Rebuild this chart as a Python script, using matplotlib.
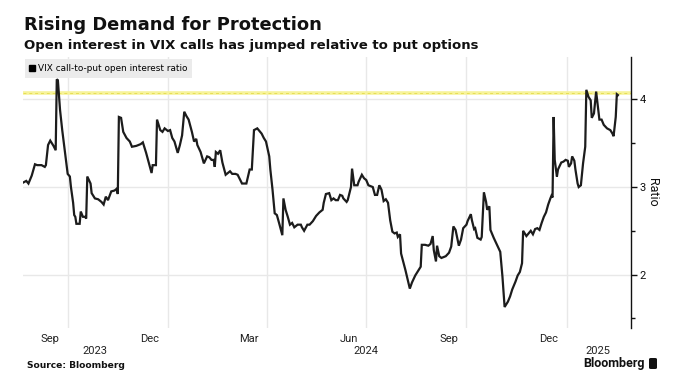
import matplotlib
matplotlib.use("Agg")
import matplotlib.pyplot as plt
import matplotlib.transforms as mtransforms
from matplotlib.lines import Line2D
from matplotlib.patches import FancyBboxPatch
import pandas as pd

plt.rcParams['font.family'] = ['Roboto', 'DejaVu Sans']

dates = [
    "2023-08-21", "2023-08-24", "2023-08-26", "2023-08-29", "2023-09-01", "2023-09-03",
    "2023-09-07", "2023-09-10", "2023-09-11", "2023-09-13", "2023-09-15", "2023-09-17",
    "2023-09-18", "2023-09-20", "2023-09-21", "2023-09-22", "2023-09-24", "2023-09-26",
    "2023-09-29", "2023-10-01", "2023-10-03", "2023-10-04", "2023-10-06", "2023-10-07",
    "2023-10-08", "2023-10-09", "2023-10-12", "2023-10-13", "2023-10-15", "2023-10-17",
    "2023-10-18", "2023-10-19", "2023-10-22", "2023-10-23", "2023-10-26", "2023-10-29",
    "2023-11-01", "2023-11-03", "2023-11-05", "2023-11-07", "2023-11-10", "2023-11-13",
    "2023-11-15", "2023-11-16", "2023-11-17", "2023-11-19", "2023-11-21", "2023-11-24",
    "2023-11-27", "2023-11-29", "2023-12-03", "2023-12-07", "2023-12-09", "2023-12-12",
    "2023-12-15", "2023-12-17", "2023-12-18", "2023-12-21", "2023-12-22", "2023-12-25",
    "2023-12-27", "2023-12-29", "2024-01-01", "2024-01-03", "2024-01-05", "2024-01-07",
    "2024-01-10", "2024-01-12", "2024-01-14", "2024-01-16", "2024-01-18", "2024-01-20",
    "2024-01-23", "2024-01-25", "2024-01-27", "2024-01-28", "2024-01-31", "2024-02-03",
    "2024-02-06", "2024-02-08", "2024-02-10", "2024-02-12", "2024-02-13", "2024-02-14",
    "2024-02-16", "2024-02-18", "2024-02-20", "2024-02-23", "2024-02-25", "2024-02-27",
    "2024-02-29", "2024-03-03", "2024-03-05", "2024-03-09", "2024-03-13", "2024-03-16",
    "2024-03-18", "2024-03-20", "2024-03-23", "2024-03-27", "2024-03-29", "2024-03-31",
    "2024-04-03", "2024-04-04", "2024-04-06", "2024-04-08", "2024-04-10", "2024-04-12",
    "2024-04-15", "2024-04-16", "2024-04-18", "2024-04-20", "2024-04-22", "2024-04-24",
    "2024-04-26", "2024-04-29", "2024-05-02", "2024-05-03", "2024-05-05", "2024-05-08",
    "2024-05-10", "2024-05-13", "2024-05-16", "2024-05-19", "2024-05-22", "2024-05-23",
    "2024-05-25", "2024-05-28", "2024-05-30", "2024-06-01", "2024-06-03", "2024-06-05",
    "2024-06-07", "2024-06-09", "2024-06-10", "2024-06-13", "2024-06-14", "2024-06-17",
    "2024-06-18", "2024-06-20", "2024-06-23", "2024-06-24", "2024-06-27", "2024-06-29",
    "2024-07-01", "2024-07-03", "2024-07-07", "2024-07-09", "2024-07-11", "2024-07-13",
    "2024-07-15", "2024-07-17", "2024-07-19", "2024-07-21", "2024-07-23", "2024-07-25",
    "2024-07-27", "2024-07-29", "2024-07-30", "2024-08-01", "2024-08-02", "2024-08-06",
    "2024-08-10", "2024-08-12", "2024-08-15", "2024-08-17", "2024-08-20", "2024-08-21",
    "2024-08-24", "2024-08-27", "2024-08-29", "2024-08-31", "2024-09-01", "2024-09-03",
    "2024-09-04", "2024-09-06", "2024-09-08", "2024-09-12", "2024-09-15", "2024-09-17",
    "2024-09-19", "2024-09-21", "2024-09-24", "2024-09-26", "2024-09-28", "2024-10-01",
    "2024-10-02", "2024-10-05", "2024-10-06", "2024-10-08", "2024-10-09", "2024-10-11",
    "2024-10-14", "2024-10-15", "2024-10-17", "2024-10-19", "2024-10-20", "2024-10-22",
    "2024-10-23", "2024-10-26", "2024-10-29", "2024-11-01", "2024-11-03", "2024-11-05",
    "2024-11-08", "2024-11-10", "2024-11-12", "2024-11-15", "2024-11-17", "2024-11-19",
    "2024-11-21", "2024-11-22", "2024-11-25", "2024-11-27", "2024-11-29", "2024-12-01",
    "2024-12-03", "2024-12-05", "2024-12-07", "2024-12-09", "2024-12-11", "2024-12-13",
    "2024-12-15", "2024-12-17", "2024-12-18", "2024-12-19", "2024-12-20", "2024-12-21",
    "2024-12-23", "2024-12-24", "2024-12-27", "2024-12-29", "2024-12-31", "2025-01-02",
    "2025-01-03", "2025-01-05", "2025-01-06", "2025-01-08", "2025-01-09", "2025-01-11",
    "2025-01-12", "2025-01-14", "2025-01-16", "2025-01-18", "2025-01-19", "2025-01-20",
    "2025-01-21", "2025-01-23", "2025-01-24", "2025-01-26", "2025-01-27", "2025-01-28",
    "2025-01-30", "2025-01-31", "2025-02-02", "2025-02-04", "2025-02-07", "2025-02-10",
    "2025-02-12", "2025-02-13", "2025-02-15", "2025-02-16", "2025-02-17",
]

ratio = [
    3.05, 3.07, 3.04, 3.13, 3.26, 3.25,
    3.25, 3.23, 3.25, 3.48, 3.53, 3.49,
    3.47, 3.42, 4.23, 4.22, 3.88, 3.65,
    3.35, 3.15, 3.12, 3.00, 2.82, 2.68,
    2.66, 2.58, 2.58, 2.72, 2.66, 2.66,
    2.64, 3.12, 3.04, 2.93, 2.87, 2.86,
    2.83, 2.80, 2.89, 2.85, 2.95, 2.96,
    2.98, 2.92, 3.80, 3.79, 3.63, 3.56,
    3.52, 3.46, 3.47, 3.49, 3.51, 3.39,
    3.25, 3.16, 3.25, 3.25, 3.77, 3.65,
    3.63, 3.67, 3.64, 3.65, 3.56, 3.52,
    3.39, 3.48, 3.59, 3.86, 3.81, 3.77,
    3.63, 3.52, 3.55, 3.48, 3.40, 3.27,
    3.35, 3.34, 3.31, 3.31, 3.23, 3.40,
    3.38, 3.42, 3.28, 3.14, 3.16, 3.18,
    3.15, 3.15, 3.14, 3.04, 3.04, 3.20,
    3.20, 3.65, 3.67, 3.61, 3.56, 3.52,
    3.35, 3.20, 2.97, 2.70, 2.68, 2.59,
    2.45, 2.87, 2.74, 2.66, 2.57, 2.59,
    2.54, 2.57, 2.57, 2.54, 2.50, 2.57,
    2.57, 2.61, 2.67, 2.71, 2.74, 2.82,
    2.92, 2.93, 2.85, 2.87, 2.85, 2.85,
    2.91, 2.90, 2.87, 2.83, 2.85, 3.00,
    3.21, 3.02, 3.02, 3.06, 3.14, 3.10,
    3.08, 3.02, 3.00, 2.91, 2.91, 3.02,
    2.97, 2.84, 2.86, 2.82, 2.62, 2.49,
    2.47, 2.48, 2.43, 2.46, 2.24, 2.05,
    1.84, 1.91, 1.99, 2.03, 2.09, 2.34,
    2.34, 2.33, 2.35, 2.44, 2.28, 2.15,
    2.33, 2.21, 2.19, 2.21, 2.25, 2.32,
    2.55, 2.51, 2.33, 2.40, 2.53, 2.57,
    2.61, 2.69, 2.62, 2.52, 2.53, 2.42,
    2.40, 2.43, 2.94, 2.83, 2.74, 2.78,
    2.51, 2.42, 2.34, 2.26, 1.98, 1.63,
    1.69, 1.75, 1.83, 1.92, 1.99, 2.03,
    2.13, 2.50, 2.44, 2.47, 2.50, 2.46,
    2.52, 2.53, 2.51, 2.59, 2.66, 2.71,
    2.80, 2.87, 2.90, 2.88, 3.80, 3.31,
    3.12, 3.20, 3.28, 3.29, 3.31, 3.30,
    3.23, 3.27, 3.35, 3.30, 3.20, 3.04,
    3.00, 3.02, 3.27, 3.46, 4.11, 4.07,
    4.03, 3.99, 3.79, 3.84, 3.96, 4.09,
    3.88, 3.77, 3.77, 3.71, 3.67, 3.65,
    3.61, 3.58, 3.80, 4.06, 4.05,
]

threshold = 4.07
month_labels = ["Sep", "Dec", "Mar", "Jun", "Sep", "Dec"]
month_label_dates = ["2023-09-15", "2023-12-15", "2024-03-15", "2024-06-15", "2024-09-15", "2024-12-15"]
grid_dates = ["2023-10-01", "2024-01-01", "2024-04-01", "2024-07-01", "2024-10-01", "2025-01-01"]
year_labels = ["2023", "2024", "2025"]
year_label_dates = ["2023-10-26", "2024-07-01", "2025-01-30"]
y_ticks = [2, 3, 4]
y_minor = [1.5, 2.5, 3.5]

x = pd.to_datetime(dates)

W, H = 680, 392
fig = plt.figure(figsize=(W / 100, H / 100), dpi=100)
ax = fig.add_axes([23 / W, 1 - 328 / H, (631 - 23) / W, (328 - 57) / H])

ax.set_xlim(pd.Timestamp("2023-08-21"), pd.Timestamp("2025-03-01"))
ax.set_ylim(1.39, 4.485)

grid_c = "#e8e8e8"
for d in pd.to_datetime(grid_dates):
    ax.axvline(d, color=grid_c, lw=1, zorder=0)
for v in y_ticks:
    ax.axhline(v, color=grid_c, lw=1, zorder=0)

ax.axhline(threshold, color="#f7f39a", lw=2.6, zorder=1)
ax.axhline(threshold, color="#e6de55", lw=0.7, ls=(0, (3, 3)), zorder=1.1)

ax.plot(x, ratio, color="#1c1c1c", lw=1.6, zorder=3, solid_joinstyle="miter")

for s in ["top", "left", "bottom"]:
    ax.spines[s].set_visible(False)
ax.spines["right"].set_color("#111111")
ax.spines["right"].set_linewidth(1.0)

ax.yaxis.tick_right()
ax.set_yticks(y_ticks)
ax.set_yticks(y_minor, minor=True)
ax.set_yticklabels([str(v) for v in y_ticks])
ax.tick_params(axis="y", which="major", length=4, width=1, pad=2, labelsize=8, colors="#111111")
ax.tick_params(axis="y", which="minor", length=3, width=1, colors="#111111")
ax.yaxis.set_label_position("right")
ax.set_ylabel("Ratio", rotation=-90, fontsize=9, labelpad=10, color="#111111")

ax.set_xticks(pd.to_datetime(month_label_dates))
ax.set_xticklabels(month_labels)
ax.tick_params(axis="x", length=0, pad=4, labelsize=8, colors="#222222")

trans = mtransforms.blended_transform_factory(ax.transData, ax.transAxes)
for lab, d in zip(year_labels, pd.to_datetime(year_label_dates)):
    ax.text(d, -0.085, lab, transform=trans, ha="center", va="center", fontsize=8, color="#222222")

handle = Line2D([], [], marker="s", color="black", linestyle="none", markersize=4.5)
leg = ax.legend([handle], ["VIX call-to-put open interest ratio"], loc="upper left",
                bbox_to_anchor=(0.0, 1.0), borderaxespad=0.2,
                prop={"family": "DejaVu Sans", "size": 6.4},
                handlelength=0.6, handletextpad=0.3, borderpad=0.55, frameon=True,
                fancybox=False)
leg.get_frame().set_facecolor("#ebebeb")
leg.get_frame().set_edgecolor("none")
leg.get_frame().set_alpha(1)
leg.set_zorder(5)

fig.text(24 / W, 1 - 25 / H, "Rising Demand for Protection", fontsize=12.9, fontweight="bold",
         family="DejaVu Sans", ha="left", va="center", color="#111111")
fig.text(24 / W, 1 - 46 / H, "Open interest in VIX calls has jumped relative to put options",
         fontsize=9.5, fontweight="bold", family="DejaVu Sans", ha="left", va="center", color="#111111")
fig.text(27 / W, 1 - 365 / H, "Source: Bloomberg", fontsize=6.6, fontweight="bold",
         family="DejaVu Sans", ha="left", va="center", color="#111111")
fig.text(645 / W, 1 - 363 / H, "Bloomberg", fontsize=9, fontweight="bold",
         ha="right", va="center", color="#111111")
icon = FancyBboxPatch((649 / W, 1 - 369 / H), 8 / W, 11 / H, boxstyle="round,pad=0,rounding_size=0.003",
                      transform=fig.transFigure, facecolor="#111111", edgecolor="none")
fig.patches.append(icon)

fig.savefig("out.png", dpi=100, facecolor="white")
